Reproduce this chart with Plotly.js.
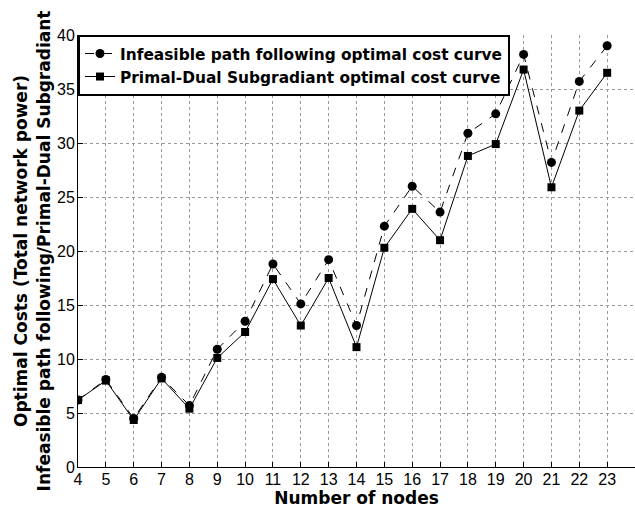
<!DOCTYPE html>
<html><head><meta charset="utf-8">
<script src="https://cdn.plot.ly/plotly-3.0.1.min.js"></script>
<style>html,body{margin:0;padding:0;background:#fff}</style>
</head><body>
<div id="chart" style="width:635px;height:512px"></div>
<script>
const nodes = [4,5,6,7,8,9,10,11,12,13,14,15,16,17,18,19,20,21,22,23];
const infeasibleCost = [6.2,8.1,4.5,8.3,5.7,10.9,13.5,18.8,15.1,19.2,13.1,22.3,26.0,23.6,30.9,32.7,38.2,28.2,35.7,39.0];
const primalDualCost = [6.2,8.0,4.35,8.2,5.4,10.1,12.5,17.4,13.1,17.5,11.1,20.3,23.9,21.0,28.8,29.9,36.8,25.9,33.0,36.5];
const seriesNames = ['Infeasible path following optimal cost curve','Primal-Dual Subgradiant optimal cost curve'];
const xTicks = nodes;
const yTicks = [0,5,10,15,20,25,30,35,40];

const traces = [
  {x:nodes, y:infeasibleCost, name:seriesNames[0], type:'scatter', mode:'lines+markers',
   line:{color:'#000', width:1, dash:'dash'}, marker:{symbol:'circle', size:9, color:'#000'}},
  {x:nodes, y:primalDualCost, name:seriesNames[1], type:'scatter', mode:'lines+markers',
   line:{color:'#000', width:1}, marker:{symbol:'square', size:8, color:'#000'}}
];
const boldFont = 'DejaVu Sans, sans-serif';
const layout = {
  width:635, height:512,
  margin:{l:78, r:0, t:35, b:45},
  paper_bgcolor:'#fff', plot_bgcolor:'#fff',
  font:{family:'Liberation Sans, Arial, sans-serif', color:'#000', size:16},
  showlegend:true,
  legend:{x:0, y:1, xanchor:'left', yanchor:'top', bgcolor:'#fff', bordercolor:'#000', borderwidth:2,
          font:{family:boldFont, size:15.4, weight:'bold'}, tracegroupgap:0},
  xaxis:{range:[4,24], tickvals:xTicks, ticks:'inside', ticklen:5, tickcolor:'#000',
         showline:true, linecolor:'#000', linewidth:1, mirror:false,
         showgrid:true, gridcolor:'#999', griddash:'dot', gridwidth:1, zeroline:false,
         tickfont:{size:16}, ticklabelstandoff:-2,
         title:{text:'Number of nodes', font:{family:boldFont, size:17, weight:'bold'}, standoff:4}},
  yaxis:{range:[0,40], tickvals:yTicks, ticks:'inside', ticklen:5, tickcolor:'#000',
         showline:true, linecolor:'#000', linewidth:1,
         showgrid:true, gridcolor:'#999', griddash:'dot', gridwidth:1, zeroline:false,
         tickfont:{size:16}, ticklabelstandoff:-1,
         title:{text:'Optimal Costs (Total network power)<br>Infeasible path following/Primal-Dual Subgradiant',
                font:{family:boldFont, size:17, weight:'bold'}, standoff:2}}
};
Plotly.newPlot('chart', traces, layout, {displayModeBar:false});
</script>
</body></html>
